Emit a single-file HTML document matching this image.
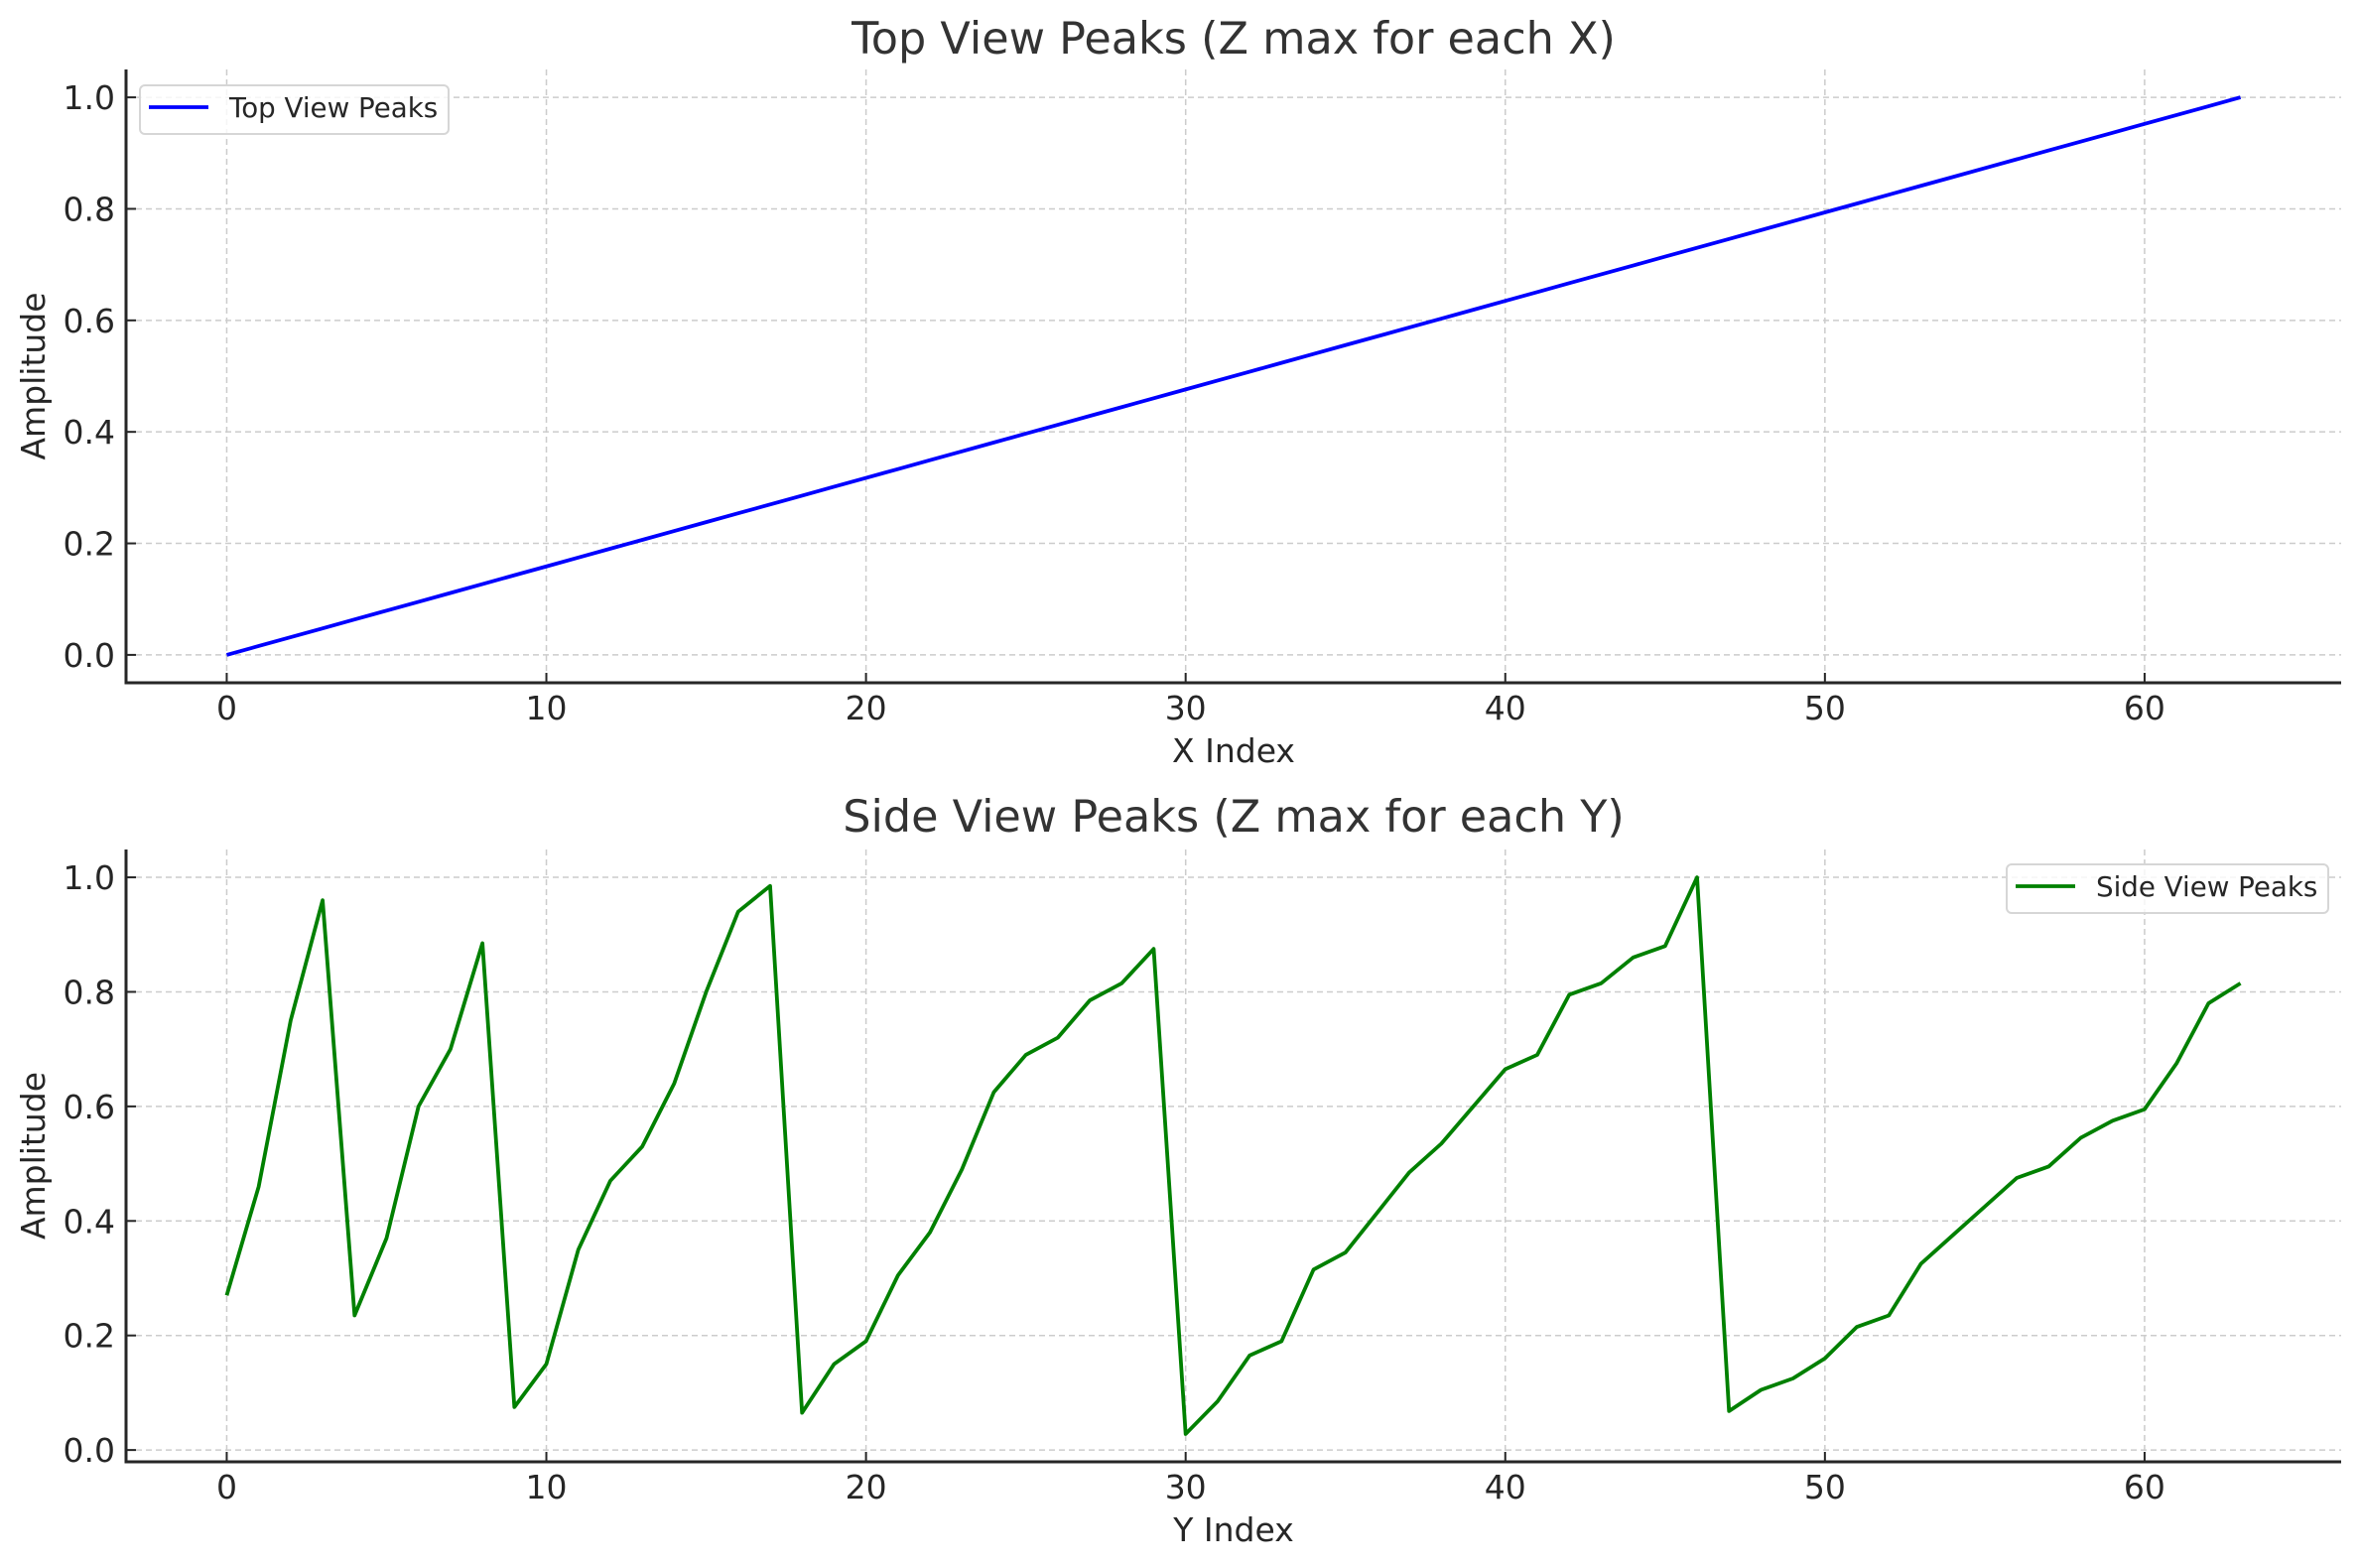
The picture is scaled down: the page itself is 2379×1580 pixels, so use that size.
<!DOCTYPE html>
<html><head><meta charset="utf-8"><style>
html,body{margin:0;padding:0;background:#fff;}
svg{display:block;font-family:"DejaVu Sans","Liberation Sans",sans-serif;}
</style></head><body>
<svg id="chart" width="2379" height="1580" viewBox="0 0 2379 1580" xmlns="http://www.w3.org/2000/svg"></svg>
<script>
const xIndex = Array.from({length:64},(_,i)=>i);
const topValues = [0,0.0159,0.0317,0.0476,0.0635,0.0794,0.0952,0.1111,0.127,0.1429,0.1587,0.1746,0.1905,0.2063,0.2222,0.2381,0.254,0.2698,0.2857,0.3016,0.3175,0.3333,0.3492,0.3651,0.381,0.3968,0.4127,0.4286,0.4444,0.4603,0.4762,0.4921,0.5079,0.5238,0.5397,0.5556,0.5714,0.5873,0.6032,0.619,0.6349,0.6508,0.6667,0.6825,0.6984,0.7143,0.7302,0.746,0.7619,0.7778,0.7937,0.8095,0.8254,0.8413,0.8571,0.873,0.8889,0.9048,0.9206,0.9365,0.9524,0.9683,0.9841,1.0];
const sideValues = [0.27,0.46,0.75,0.96,0.235,0.37,0.60,0.70,0.885,0.075,0.15,0.35,0.47,0.53,0.64,0.80,0.94,0.985,0.065,0.15,0.19,0.305,0.38,0.49,0.625,0.69,0.72,0.785,0.815,0.875,0.028,0.085,0.165,0.19,0.315,0.345,0.415,0.485,0.535,0.60,0.665,0.69,0.795,0.815,0.86,0.88,1.0,0.068,0.105,0.125,0.16,0.215,0.235,0.325,0.375,0.425,0.475,0.495,0.545,0.575,0.595,0.675,0.78,0.815];
const xTicks = [0,10,20,30,40,50,60];
const yTicks = [0.0,0.2,0.4,0.6,0.8,1.0];
const yTickLabels = ["0.0","0.2","0.4","0.6","0.8","1.0"];

const NS="http://www.w3.org/2000/svg";
const svg=document.getElementById('chart');
function mk(tag,attrs,parent){const e=document.createElementNS(NS,tag);for(const k in attrs)e.setAttribute(k,attrs[k]);(parent||svg).appendChild(e);return e;}

function panel(cfg){
  const g=mk('g',{});
  
  
  const L=127,R=2359,T=cfg.top,B=cfg.bottom;
  const xs=cfg.x, ys=cfg.y;
  const xmin=Math.min(...xs), xmax=Math.max(...xs), xm=(xmax-xmin)*0.05;
  const ymin=Math.min(...ys), ymax=Math.max(...ys), ym=(ymax-ymin)*0.05;
  const X=v=>L+(v-(xmin-xm))/((xmax+xm)-(xmin-xm))*(R-L);
  const Y=v=>B-(v-(ymin-ym))/((ymax+ym)-(ymin-ym))*(B-T);
  xTicks.forEach(t=>{
    const l=mk('line',{x1:X(t),x2:X(t),y1:T,y2:B,stroke:'#cccccc','stroke-width':1.5,'stroke-dasharray':'6,4'},g);
    
    
  });
  yTicks.forEach(t=>{
    const l=mk('line',{x1:L,x2:R,y1:Y(t),y2:Y(t),stroke:'#cccccc','stroke-width':1.5,'stroke-dasharray':'6,4'},g);
    
    
  });
  const pts=xs.map((v,i)=>X(v).toFixed(2)+','+Y(ys[i]).toFixed(2)).join(' ');
  const pl=mk('polyline',{points:pts,fill:'none',stroke:cfg.color,'stroke-width':3.8,'stroke-linejoin':'round'},g);
  
  
  const sl=mk('line',{x1:L,x2:L,y1:T,y2:B+1.5,stroke:'#262626','stroke-width':3},g);
  
  
  const sb=mk('line',{x1:L-1.5,x2:R,y1:B,y2:B,stroke:'#262626','stroke-width':3},g);
  
  
  xTicks.forEach(t=>{
    const tk=mk('line',{x1:X(t),x2:X(t),y1:B,y2:B-10,stroke:'#262626','stroke-width':2},g);
    
    
    const tx=mk('text',{x:X(t),y:B+37,'font-size':33,'text-anchor':'middle',fill:'#262626'},g);
    tx.textContent=String(t);
    
    
  });
  yTicks.forEach((t,i)=>{
    const tk=mk('line',{x1:L,x2:L+10,y1:Y(t),y2:Y(t),stroke:'#262626','stroke-width':2},g);
    
    
    const tx=mk('text',{x:116,y:Y(t)+12,'font-size':33,'text-anchor':'end',fill:'#262626'},g);
    tx.textContent=yTickLabels[i];
    
    
  });
  const tt=mk('text',{x:1243,y:cfg.titleY,'font-size':44.5,'text-anchor':'middle',fill:'#333333'},g);
  tt.textContent=cfg.title;
  
  
  const xl=mk('text',{x:1243,y:B+80,'font-size':33,'text-anchor':'middle',fill:'#262626'},g);
  xl.textContent=cfg.xlabel;
  
  
  const cy=(T+B)/2;
  const yl=mk('text',{x:45,y:cy,'font-size':33,'text-anchor':'middle',fill:'#262626',transform:'rotate(-90 45 '+cy+')'},g);
  yl.textContent='Amplitude';
  
  
  const lg=mk('g',{},g);
  
  
  const lx=cfg.legX, ly=cfg.legY, lw=cfg.legW;
  mk('rect',{x:lx,y:ly,width:lw,height:49,rx:5,fill:'#ffffff','fill-opacity':0.8,stroke:'#d6d6d6','stroke-width':2},lg);
  const ll=mk('line',{x1:lx+9,x2:lx+69,y1:ly+22,y2:ly+22,stroke:cfg.color,'stroke-width':3.8},lg);
  
  
  const lt=mk('text',{x:lx+90,y:ly+32,'font-size':27.7,fill:'#262626'},lg);
  lt.textContent=cfg.seriesLabel;
  
  
}

panel({name:'top-view-panel',top:70,bottom:688,x:xIndex,y:topValues,color:'#0000ff',seriesName:'top-view-line',seriesLabel:'Top View Peaks',title:'Top View Peaks (Z max for each X)',titleY:54,xlabel:'X Index',legX:141,legY:86,legW:311});
panel({name:'side-view-panel',top:856,bottom:1473,x:xIndex,y:sideValues,color:'#008000',seriesName:'side-view-line',seriesLabel:'Side View Peaks',title:'Side View Peaks (Z max for each Y)',titleY:838,xlabel:'Y Index',legX:2022,legY:871,legW:324});
</script>
</body></html>
